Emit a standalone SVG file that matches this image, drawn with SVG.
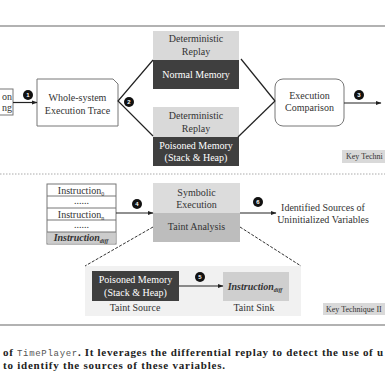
<svg xmlns="http://www.w3.org/2000/svg" width="385" height="384" viewBox="0 0 385 384">
<style>
.t{font-family:"Liberation Serif","Times New Roman",serif;font-size:10px;fill:#333;text-anchor:middle}
.w{fill:#fff}
.box{fill:#fff;stroke:#777;stroke-width:1}
.lg{fill:#d9d9d9}
.dk{fill:#3f3f3f}
.md{fill:#bdbdbd}
.ln{stroke:#222;stroke-width:1.2;fill:none}
.dl{stroke:#333;stroke-width:1;stroke-dasharray:3,1.5;fill:none}
.bd{fill:#111}
.bt{font-family:"Liberation Sans",Arial,sans-serif;font-size:6px;font-weight:bold;fill:#fff;text-anchor:middle}
.kt{font-family:"Liberation Serif","Times New Roman",serif;font-size:8px;fill:#333}
.cap{font-family:"Liberation Serif","Times New Roman",serif;font-size:11px;font-weight:bold;fill:#222}
</style>
<defs>
<marker id="ar" viewBox="0 0 6 6" refX="5.5" refY="3" markerWidth="5" markerHeight="5" orient="auto"><path d="M0,0.8 L6,3 L0,5.2 z" fill="#222"/></marker>
</defs>
<rect width="385" height="384" fill="#fff"/>
<line x1="0" y1="26" x2="385" y2="26" stroke="#999" stroke-width="1.5"/>
<line x1="0" y1="174" x2="385" y2="174" stroke="#aaa" stroke-width="1" stroke-dasharray="1.5,1.5"/>
<line x1="0" y1="325" x2="385" y2="325" stroke="#999" stroke-width="1.5"/>

<g id="recording">
<rect class="box" x="-5" y="89" width="18" height="26"/>
<text class="t" x="12" y="100" style="text-anchor:end">on</text>
<text class="t" x="12" y="111" style="text-anchor:end">ng</text>
</g>
<g id="trace">
<path class="box" d="M37,79 H113 L118,84 V126 H37 Z"/>
<text class="t" x="77.5" y="101">Whole-system</text>
<text class="t" x="77.5" y="114">Execution Trace</text>
</g>
<g id="replay-normal">
<rect class="lg" x="153" y="31" width="86" height="29"/>
<rect class="dk" x="153" y="60" width="86" height="29"/>
<text class="t" x="196" y="42">Deterministic</text>
<text class="t" x="196" y="55">Replay</text>
<text class="t w" x="196" y="78">Normal Memory</text>
</g>
<g id="replay-poisoned">
<rect class="lg" x="153" y="107" width="86" height="30"/>
<rect class="dk" x="153" y="137" width="86" height="29"/>
<text class="t" x="196" y="119">Deterministic</text>
<text class="t" x="196" y="132">Replay</text>
<text class="t w" x="196" y="149">Poisoned Memory</text>
<text class="t w" x="196" y="161">(Stack &amp; Heap)</text>
</g>
<g id="comparison">
<rect class="box" x="275" y="79" width="69" height="47" rx="8"/>
<text class="t" x="309.5" y="99">Execution</text>
<text class="t" x="309.5" y="111">Comparison</text>
</g>
<g id="key1">
<rect fill="#d9d9d9" x="342" y="150" width="50" height="13"/>
<text class="kt" x="346" y="159">Key Techni</text>
</g>
<g id="instructions">
<rect class="box" x="47" y="184" width="69" height="60"/>
<rect fill="#cccccc" x="47.5" y="232" width="68" height="11.5"/>
<line x1="47" y1="196" x2="116" y2="196" stroke="#777"/>
<line x1="47" y1="208" x2="116" y2="208" stroke="#777"/>
<line x1="47" y1="220" x2="116" y2="220" stroke="#777"/>
<line x1="47" y1="232" x2="116" y2="232" stroke="#777"/>
<text class="t" x="81" y="193.5">Instruction<tspan font-size="6" dy="2">0</tspan></text>
<text class="t" x="81.5" y="204" font-size="7">......</text>
<text class="t" x="81" y="217.5">Instruction<tspan font-size="6" dy="2">n</tspan></text>
<text class="t" x="81.5" y="228" font-size="7">......</text>
<text class="t" x="81" y="241" font-weight="bold" font-style="italic">Instruction<tspan font-size="6" dy="2">diff</tspan></text>
</g>
<g id="symbolic">
<rect fill="#dcdcdc" x="153" y="183" width="87" height="30"/>
<rect class="md" x="153" y="213" width="87" height="29"/>
<text class="t" x="196.5" y="196">Symbolic</text>
<text class="t" x="196.5" y="208">Execution</text>
<text class="t" x="196.5" y="230">Taint Analysis</text>
</g>
<g id="sources">
<text class="t" x="323" y="211">Identified Sources of</text>
<text class="t" x="323" y="223">Uninitialized Variables</text>
</g>
<g id="inset">
<rect fill="#f1f1f1" x="85" y="266" width="216" height="50"/>
</g>
<g id="taint-source">
<rect class="dk" x="92" y="271" width="87" height="30"/>
<text class="t w" x="135.5" y="283">Poisoned Memory</text>
<text class="t w" x="135.5" y="296">(Stack &amp; Heap)</text>
<text class="t" x="135" y="311" font-size="9">Taint Source</text>
</g>
<g id="taint-sink">
<rect fill="#cfcfcf" x="223" y="272" width="66" height="29"/>
<text class="t" x="255" y="290" font-weight="bold" font-style="italic">Instruction<tspan font-size="6" dy="2">diff</tspan></text>
<text class="t" x="254" y="311" font-size="9">Taint Sink</text>
</g>
<g id="key2">
<rect fill="#d9d9d9" x="323" y="303" width="70" height="12"/>
<text class="kt" x="326" y="312">Key Technique II</text>
</g>

<g id="connectors">
<line class="ln" x1="13" y1="102.5" x2="37" y2="102.5" marker-end="url(#ar)"/>
<polyline class="ln" points="153,60 118,101 153,136"/>
<line class="ln" x1="241" y1="59" x2="275" y2="101"/>
<line class="ln" x1="238" y1="137" x2="275" y2="101"/>
<line class="ln" x1="344" y1="103" x2="381" y2="103" marker-end="url(#ar)"/>
<line class="ln" x1="116" y1="213" x2="153" y2="213" marker-end="url(#ar)"/>
<line class="ln" x1="240" y1="213" x2="276" y2="213" marker-end="url(#ar)"/>
<line class="dl" x1="153" y1="227" x2="85" y2="266"/>
<line class="dl" x1="240" y1="227" x2="301" y2="266"/>
<line class="ln" x1="179" y1="286" x2="223" y2="286" marker-end="url(#ar)"/>
<circle class="bd" cx="28" cy="95" r="5"/><text class="bt" x="28" y="97.2">1</text>
<circle class="bd" cx="129" cy="102" r="5"/><text class="bt" x="129" y="104.2">2</text>
<circle class="bd" cx="359" cy="95" r="5"/><text class="bt" x="359" y="97.2">3</text>
<circle class="bd" cx="137" cy="204" r="5"/><text class="bt" x="137" y="206.2">4</text>
<circle class="bd" cx="200" cy="277" r="5"/><text class="bt" x="200" y="279.2">5</text>
<circle class="bd" cx="258" cy="202" r="5"/><text class="bt" x="258" y="204.2">6</text>
</g>

<text class="cap" x="3" y="356" textLength="380" lengthAdjust="spacing">of <tspan font-family="'Liberation Mono','Courier New',monospace" font-weight="normal" font-size="9" fill="#555">TimePlayer</tspan>. It leverages the differential replay to detect the use of u</text>
<text class="cap" x="3" y="369" textLength="222" lengthAdjust="spacing">to identify the sources of these variables.</text>
</svg>
